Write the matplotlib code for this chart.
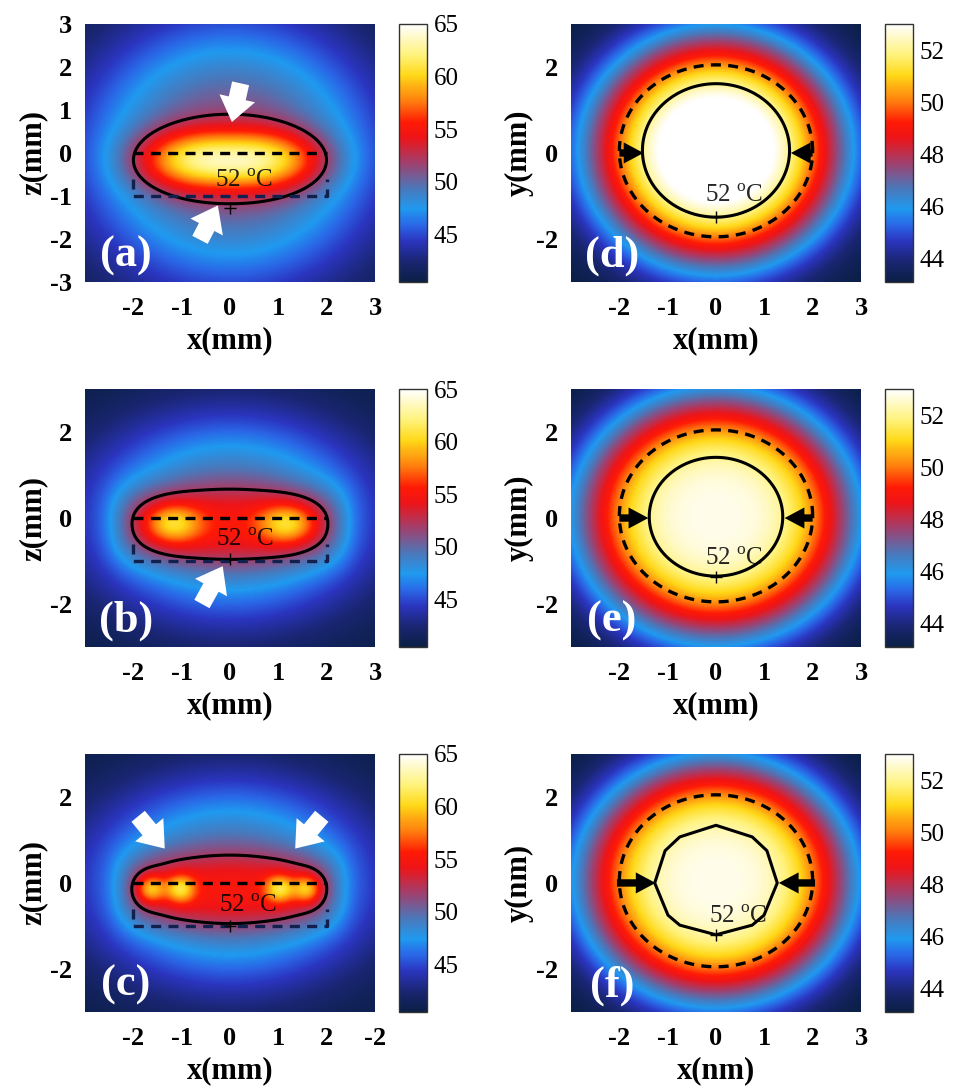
import numpy as np
import matplotlib.pyplot as plt
from matplotlib.colors import LinearSegmentedColormap

plt.rcParams['font.family'] = ['Liberation Serif', 'DejaVu Serif']
plt.rcParams['mathtext.fontset'] = 'custom'
plt.rcParams['mathtext.rm'] = 'Liberation Serif'
plt.rcParams['axes.unicode_minus'] = False

# colour map: navy -> blue -> cyan -> red -> yellow -> white
cmap_pos = [0.0, 0.08, 0.16, 0.22, 0.28, 0.36, 0.46, 0.56, 0.62, 0.70, 0.80, 0.88, 1.0]
cmap_col = ['#0a1f45', '#1a2673', '#2b35c0', '#2a66e6', '#1f9af0', '#4a78bb', '#a0406e',
            '#ee1418', '#ff1a05', '#ff7a0d', '#ffd817', '#fff27a', '#ffffff']

# colour bar ranges (deg C)
side_range = [40.5, 65.0]
top_range = [43.1, 53.0]
side_ticks = [45, 50, 55, 60, 65]
top_ticks = [44, 46, 48, 50, 52]

# background temperature of each panel
base_temp = [40.5, 40.5, 40.5, 43.0, 43.0, 43.0]

# heat sources: x0, z0, amplitude, width x, width z, exp x, exp z, outer exp
sources_a = [(0.0, 0.0, 11.0, 3.19, 3.19, 2, 2, 1.25),
             (0.0, -0.18, 12.0, 1.85, 0.68, 2.85, 2.0, 1.0)]
sources_b = [(0.0, 0.0, 10.0, 3.1, 2.45, 2, 2, 1.25),
             (0.0, -0.2, 4.5, 2.4, 0.92, 8, 2.5, 1.0),
             (-1.2, -0.15, 6.5, 0.6, 0.45, 2, 2, 1.0),
             (1.2, -0.15, 6.5, 0.6, 0.45, 2, 2, 1.0)]
sources_c = [(0.0, 0.0, 10.0, 3.1, 2.45, 2, 2, 1.25),
             (0.0, -0.2, 4.6, 2.3, 0.88, 8, 2.5, 1.0),
             (-1.65, -0.15, 6.5, 0.3, 0.32, 2, 2, 1.0),
             (-1.03, -0.15, 6.5, 0.3, 0.32, 2, 2, 1.0),
             (1.03, -0.15, 6.5, 0.3, 0.32, 2, 2, 1.0),
             (1.6, -0.15, 6.5, 0.3, 0.32, 2, 2, 1.0)]
sources_d = [(0.0, 0.06, 11.0, 2.6, 2.65, 2, 2, 1.5)]
sources_e = [(0.0, 0.03, 9.8, 2.85, 2.85, 2, 2, 1.7)]
sources_f = [(0.0, 0.05, 9.8, 2.8, 2.8, 2, 2, 1.7)]
all_sources = [sources_a, sources_b, sources_c, sources_d, sources_e, sources_f]

isotherm = 52.0
panel_tags = ['(a)', '(b)', '(c)', '(d)', '(e)', '(f)']
xlabels = ['x(mm)', 'x(mm)', 'x(mm)', 'x(mm)', 'x(mm)', 'x(nm)']
ylabels = ['z(mm)', 'z(mm)', 'z(mm)', 'y(mm)', 'y(mm)', 'y(nm)']
xtick_pos = [-2, -1, 0, 1, 2, 3]
xtick_txt = [['-2', '-1', '0', '1', '2', '3']] * 2 + [['-2', '-1', '0', '1', '2', '-2']] + \
            [['-2', '-1', '0', '1', '2', '3']] * 3
ytick_pos = [[-3, -2, -1, 0, 1, 2, 3]] + [[-2, 0, 2]] * 5
label_xy = [(0.3, -0.64), (0.31, -0.52), (0.37, -0.53), (0.37, -0.99), (0.37, -0.94), (0.45, -0.78)]
plus_z = [-1.27, -0.95, -1.0, -1.48, -1.38, -1.2]

# white arrows on the side views: (tail x, tail z, tip x, tip z)
white_arrows = [[(0.22, 1.62, 0.04, 0.72), (-0.62, -2.02, -0.25, -1.22)],
                [(-0.58, -2.0, -0.15, -1.12)],
                [(-1.9, 1.55, -1.35, 0.8), (1.9, 1.55, 1.35, 0.8)]]
# black arrows on the top views: (tail x, tip x) at y = 0
black_arrows = [[(-2.0, -1.5), (2.0, 1.55)],
                [(-2.0, -1.4), (2.0, 1.42)],
                [(-2.05, -1.25), (2.05, 1.3)]]
dashed_radius = [2.0, 2.0, 2.0]
coarse_pts = [None, None, None, None, None, 9]


def temperature(x, z, base, sources):
    t = np.full_like(x, base)
    for x0, z0, amp, wx, wz, px, pz, m in sources:
        s = np.abs((x - x0) / wx) ** px + np.abs((z - z0) / wz) ** pz
        t = t + amp * np.exp(-s ** m)
    return t


cmap = LinearSegmentedColormap.from_list('heat', list(zip(cmap_pos, cmap_col)))

fig = plt.figure(figsize=(9.56, 10.9), dpi=100)
col_left = [0.0889, 0.5973]
cbar_left = [0.4174, 0.9257]
row_bottom = [0.7413, 0.4064, 0.0716]
w, h, cw = 0.3033, 0.2367, 0.0293

grid = np.linspace(-3, 3, 301)
X, Z = np.meshgrid(grid, grid)
dash = (0, (3, 2.2))

for i in range(6):
    col = i // 3
    row = i % 3
    ax = fig.add_axes([col_left[col], row_bottom[row], w, h])
    cax = fig.add_axes([cbar_left[col], row_bottom[row], cw, h])
    rng = side_range if col == 0 else top_range
    T = temperature(X, Z, base_temp[i], all_sources[i])
    im = ax.imshow(T, extent=[-3, 3, -3, 3], origin='lower', cmap=cmap,
                   vmin=rng[0], vmax=rng[1], aspect='auto', interpolation='bilinear')

    if coarse_pts[i]:
        g = np.linspace(-3, 3, coarse_pts[i])
        Xc, Zc = np.meshgrid(g, g)
        ax.contour(Xc, Zc, temperature(Xc, Zc, base_temp[i], all_sources[i]),
                   levels=[isotherm], colors='k', linewidths=2.2)
    else:
        ax.contour(X, Z, T, levels=[isotherm], colors='k', linewidths=2.2)

    if col == 0:
        # target region: top edge black, remaining edges dark blue
        ax.plot([-2, 2], [0, 0], color='k', lw=2.4, ls=dash)
        ax.plot([-2, -2, 2, 2], [-0.6, -1, -1, -0.6], color='#12204d', lw=2.4, ls=dash)
        for tx, tz, hx, hz in white_arrows[row]:
            ax.annotate('', xy=(hx, hz), xytext=(tx, tz),
                        arrowprops=dict(arrowstyle='simple,head_length=0.7,head_width=1.05,tail_width=0.5',
                                        mutation_scale=25, fc='white', ec='none',
                                        shrinkA=0, shrinkB=0))
    else:
        th = np.linspace(0, 2 * np.pi, 300)
        r = dashed_radius[row]
        ax.plot(r * np.cos(th), r * np.sin(th) + 0.05, color='k', lw=2.4, ls=dash)
        for tx, hx in black_arrows[row]:
            ax.annotate('', xy=(hx, 0), xytext=(tx, 0),
                        arrowprops=dict(arrowstyle='simple,head_length=0.75,head_width=0.8,tail_width=0.28',
                                        mutation_scale=19, fc='k', ec='none',
                                        shrinkA=0, shrinkB=0))

    ax.plot(0, plus_z[i], marker='+', color='k', ms=9, mew=1.0)
    ax.text(label_xy[i][0], label_xy[i][1], r'52 $^{\rm o}$C', fontsize=18,
            ha='center', va='center', color='k', alpha=0.85)
    ax.text(-2.15, -2.38, panel_tags[i], fontsize=32, fontweight='bold',
            color='white', ha='center', va='center')

    ax.set_xlim(-3, 3)
    ax.set_ylim(-3, 3)
    ax.set_xticks(xtick_pos)
    ax.set_xticklabels(xtick_txt[i], fontsize=19, fontweight='bold')
    ax.set_yticks(ytick_pos[i])
    ax.set_yticklabels([str(v) for v in ytick_pos[i]], fontsize=19, fontweight='bold')
    ax.tick_params(axis='x', length=0, pad=11)
    ax.tick_params(axis='y', length=0, pad=9)
    ax.set_xlabel(xlabels[i], fontsize=22, fontweight='bold', labelpad=4)
    ax.set_ylabel(ylabels[i], fontsize=22, fontweight='bold', labelpad=2)
    for s in ax.spines.values():
        s.set_visible(False)

    cb = fig.colorbar(im, cax=cax, ticks=side_ticks if col == 0 else top_ticks)
    cb.outline.set_linewidth(1.0)
    cb.outline.set_edgecolor('#333333')
    cax.tick_params(length=0, labelsize=18, pad=5)

fig.savefig('out.png', dpi=100)
